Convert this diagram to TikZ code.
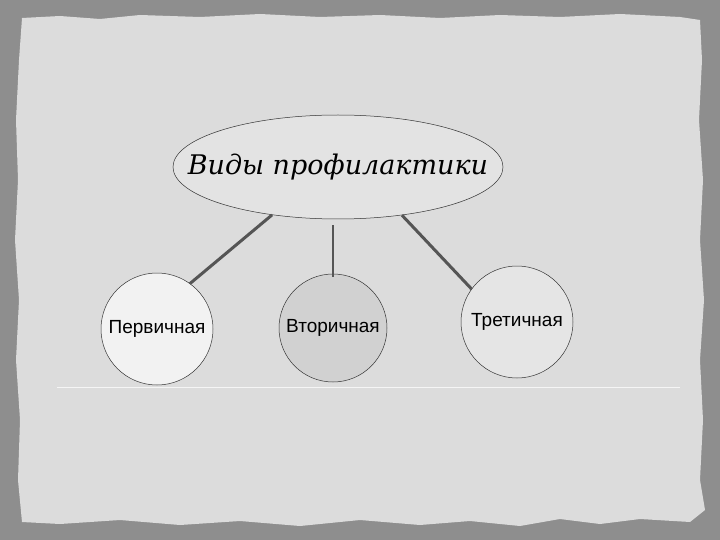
\documentclass[tikz,border=0pt]{standalone}
\usepackage{fontspec}
\usetikzlibrary{shapes.geometric}
\newfontfamily\circfont{Liberation Sans}
\newfontfamily\titlefont{DejaVu Serif}
\definecolor{frame}{HTML}{8E8E8E}
\definecolor{paper}{HTML}{DCDCDC}
\definecolor{conn}{HTML}{555555}
\tikzset{
  bubble/.style={circle, draw=black!80, line width=0.5pt, inner sep=0pt, font=\circfont\fontsize{19}{22}\selectfont},
  link/.style={draw=conn, line width=3pt},
  thinlink/.style={draw=conn, line width=1.6pt}
}
\begin{document}
\begin{tikzpicture}[x=1pt,y=-1pt]
\useasboundingbox (0,0) rectangle (720,540);
\fill[frame] (0,0) rectangle (720,540);
\fill[paper] (22,18) -- (60,16) -- (100,19) -- (140,15) -- (200,17) -- (260,14) -- (320,17) -- (380,15) -- (440,18) -- (500,15) -- (560,17) -- (620,14) -- (680,17) -- (700,20)
 -- (702,60) -- (699,120) -- (703,180) -- (700,240) -- (704,300) -- (700,360) -- (703,420) -- (700,480) -- (705,510) -- (690,522)
 -- (640,519) -- (600,524) -- (560,519) -- (520,526) -- (470,521) -- (420,525) -- (360,520) -- (300,526) -- (240,521) -- (180,525) -- (120,520) -- (60,524) -- (22,522)
 -- (18,480) -- (20,420) -- (16,360) -- (19,300) -- (15,240) -- (18,180) -- (16,120) -- (19,60) -- cycle;
\draw[white!70!paper, line width=1pt] (57,387) -- (680,387);
\node[ellipse, draw=black!80, line width=0.5pt, fill=black!11, minimum width=330pt, minimum height=104pt,
      inner xsep=-60pt, inner ysep=-20pt,
      font=\titlefont\itshape\fontsize{27}{30}\selectfont] (e) at (338,167) {Виды профилактики};
\node[bubble, fill=black!5, minimum size=112pt] (p1) at (157,329) {Первичная};
\node[bubble, fill=black!18, minimum size=108pt] (p2) at (333,328) {Вторичная};
\node[bubble, fill=black!10, minimum size=112pt] (p3) at (517,322) {Третичная};
\draw[link] (e.216) -- (p1.54);
\draw[thinlink] (e.south -| p2.north) ++(0,6) -- ([yshift=-3pt]p2.north);
\draw[link] (e.323) -- (p3.144);
\end{tikzpicture}
\end{document}
